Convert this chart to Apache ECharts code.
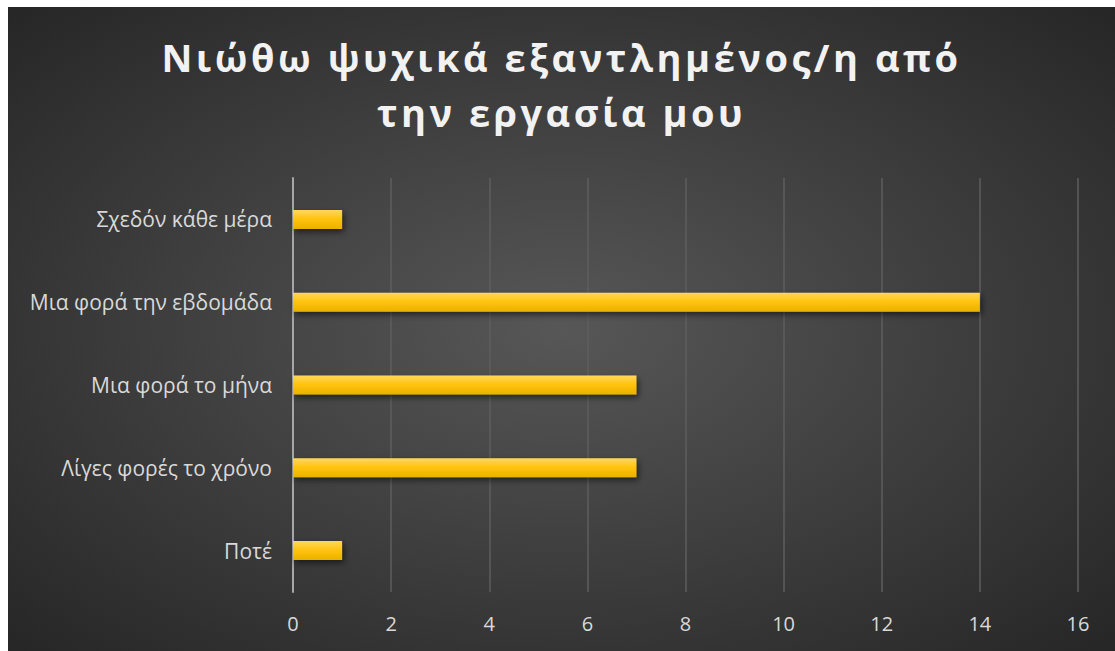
<!DOCTYPE html>
<html>
<head>
<meta charset="utf-8">
<script src="https://cdn.jsdelivr.net/npm/echarts@6/dist/echarts.min.js"></script>
<style>
  html, body { margin: 0; padding: 0; background: #ffffff; }
  #chart { position: absolute; left: 8px; top: 7px; width: 1107px; height: 644px; }
</style>
</head>
<body>
<div id="chart"></div>
<script>
// Survey answers (bottom to top on the category axis)
const categories = ['Ποτέ', 'Λίγες φορές το χρόνο', 'Μια φορά το μήνα', 'Μια φορά την εβδομάδα', 'Σχεδόν κάθε μέρα'];
const counts = [1, 7, 7, 14, 1];
const titleLines = ['Νιώθω ψυχικά εξαντλημένος/η από', 'την εργασία μου'];

const chart = echarts.init(document.getElementById('chart'), null, { renderer: 'svg' });
chart.setOption({
  backgroundColor: {
    type: 'radial', x: 0.5, y: 0.5, r: 0.75,
    colorStops: [
      { offset: 0, color: '#575757' },
      { offset: 1, color: '#232323' }
    ]
  },
  title: {
    text: titleLines.join('\n'),
    left: 'center',
    top: 17,
    textStyle: {
      color: '#f2f2f2',
      fontFamily: 'Open Sans',
      fontWeight: 'bold',
      fontSize: 38,
      lineHeight: 55
    }
  },
  grid: { left: 285, right: 37, top: 171, bottom: 59 },
  xAxis: {
    type: 'value',
    min: 0, max: 16, interval: 2,
    axisLine: { show: false },
    axisTick: { show: false },
    axisLabel: { color: '#d9d9d9', fontSize: 20, fontFamily: 'Open Sans', margin: 21 },
    splitLine: { lineStyle: { color: '#5e5e5e', width: 1.5 } }
  },
  yAxis: {
    type: 'category',
    data: categories,
    axisLine: { show: true, lineStyle: { color: '#a6a6a6', width: 2 } },
    axisTick: { show: false },
    axisLabel: { color: '#d9d9d9', fontSize: 21, fontFamily: 'Open Sans', margin: 21 }
  },
  series: [{
    type: 'bar',
    data: counts,
    barWidth: '23%',
    itemStyle: {
      color: {
        type: 'linear', x: 0, y: 0, x2: 0, y2: 1,
        colorStops: [
          { offset: 0, color: '#ffd85c' },
          { offset: 0.5, color: '#ffc20a' },
          { offset: 1, color: '#e9b200' }
        ]
      },
      shadowColor: 'rgba(0,0,0,0.55)',
      shadowBlur: 6,
      shadowOffsetX: 2,
      shadowOffsetY: 3
    }
  }]
});

// The heading is set with wide tracking
function spaceTitle() {
  document.querySelectorAll('#chart svg text').forEach(function (t) {
    if (titleLines.indexOf(t.textContent) !== -1) {
      t.style.letterSpacing = '3.5px';
    }
  });
}
spaceTitle();
chart.on('finished', spaceTitle);
</script>
</body>
</html>
